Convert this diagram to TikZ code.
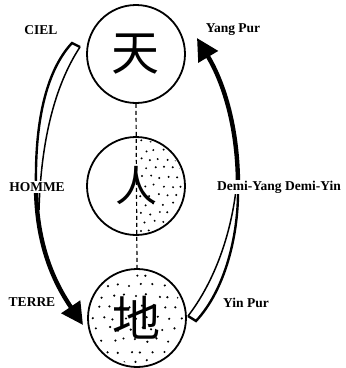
\documentclass[tikz,border=0pt]{standalone}
\usepackage{fontspec}
\setmainfont{Liberation Serif}
\newfontfamily\cjk{Noto Sans CJK SC}
\usetikzlibrary{arrows.meta,backgrounds}

\begin{document}
\begin{tikzpicture}[x=1pt, y=-1pt,
  cercle/.style={circle, draw=black, line width=1.8pt, minimum size=98pt,
                 inner sep=0pt, font=\cjk\fontsize{48}{48}\selectfont},
  etiquette/.style={font=\bfseries\fontsize{13.5}{13.5}\selectfont, inner sep=1pt},
  trait/.style={line width=2.4pt},
  filet/.style={line width=1.5pt},
  fleche/.style={line width=4.4pt, -{Triangle[length=22pt, width=22pt]}},
  axe/.style={line width=1.2pt, dash pattern=on 4pt off 3pt},
  grain/.style={fill=black}
]
\useasboundingbox (0,0) rectangle (346,368);

% ---------------- Les trois cercles ----------------
\node[cercle] (ciel)  at (136,54)  {天};
\node[cercle, font=\cjk\fontsize{42}{42}\selectfont] (homme) at (136,186) {人};
\node[cercle] (terre) at (137,318) {地};

\draw[axe] (ciel.south) -- (terre.north);

% ---------------- Pointilles ----------------
\pgfmathsetseed{7}
\begin{scope}[on background layer]
  \begin{scope}
    \clip (137,130) rectangle (190,240);
    \clip (homme.center) circle (47pt);
    \foreach \i in {0,...,5}
      \foreach \j in {0,...,11}
        \fill[grain] ({141+\i*9+mod(\j,2)*4.5+1.5*rand}, {141+\j*9+1.5*rand}) circle (1.1pt);
  \end{scope}
  \begin{scope}
    \clip (terre.center) circle (46pt);
    \foreach \i in {0,...,8}
      \foreach \j in {0,...,8}
        \fill[grain] ({92+\i*11+mod(\j,2)*5.5+2*rand}, {274+\j*11+2*rand}) circle (1.2pt);
  \end{scope}
\end{scope}

% ---------------- Bande gauche : Ciel -> Terre ----------------
\coordinate (g1) at (72,43);
\coordinate (g2) at (80,47);
\coordinate (gm) at (36,185);
\coordinate (gfin) at (83,325);
\draw[trait] (g2) -- (g1) .. controls (45,72) and (35,125) .. (gm);
\draw[filet] (g2) .. controls (55,85) and (41,140) .. (39,210);
\draw[fleche] (gm) .. controls (36,250) and (58,288) .. (gfin);

% ---------------- Bande droite : Terre -> Ciel ----------------
\coordinate (d1) at (196,321);
\coordinate (d2) at (188,316);
\coordinate (dm) at (238,186);
\coordinate (dfin) at (197,38);
\draw[trait] (d2) -- (d1) .. controls (225,290) and (239,235) .. (dm);
\draw[filet] (d2) .. controls (212,285) and (230,240) .. (236,190);
\draw[fleche] (dm) .. controls (238,130) and (225,85) .. (dfin);

% ---------------- Etiquettes ----------------
\node[etiquette] (lciel) at (41,30) {CIEL};
\node[etiquette] (lyang) at (233,30) {Yang Pur};
\node[etiquette, fill=white] (lhomme) at (37,187) {HOMME};
\node[etiquette, fill=white, anchor=west] (ldemi) at (216,187) {Demi-Yang Demi-Yin};
\node[etiquette] (lterre) at (32,302) {TERRE};
\node[etiquette] (lyin) at (246,303) {Yin Pur};

\end{tikzpicture}
\end{document}
